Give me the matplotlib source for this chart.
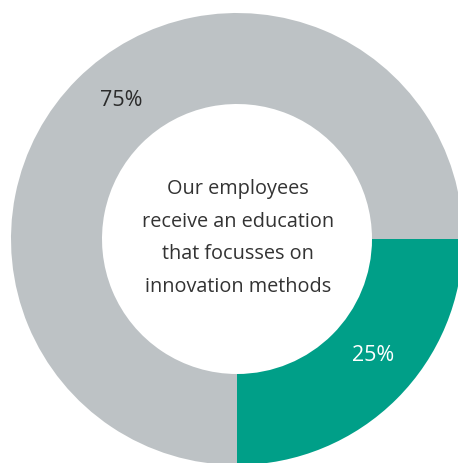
import matplotlib.pyplot as plt

labels = ["25%", "75%"]
shares = [25, 75]
colors = ["#009F88", "#BDC2C5"]
center_text = "Our employees\nreceive an education\nthat focusses on\ninnovation methods"

W, H = 458, 464
fig = plt.figure(figsize=(W / 100, H / 100), dpi=100)
ax = fig.add_axes([0, 0, 1, 1])

cx, cy = 237, H - 240
r_out, r_in = 226, 135

ax.pie(shares, colors=colors, startangle=0, counterclock=False,
       center=(cx, cy), radius=r_out, frame=True,
       wedgeprops=dict(width=r_out - r_in, linewidth=0))
ax.set_xlim(0, W)
ax.set_ylim(0, H)
ax.set_aspect("equal")
ax.axis("off")

font = "Open Sans"
ax.text(373, H - 356, labels[0], ha="center", va="center",
        fontsize=15.5, color="white", family=font)
ax.text(121, H - 101, labels[1], ha="center", va="center",
        fontsize=15.5, color="#2b2b2b", family=font)
ax.text(cx + 1, H - 238, center_text, ha="center", va="center",
        fontsize=14.3, color="#333333", family=font, linespacing=1.85)

fig.savefig("out.png", dpi=100)
